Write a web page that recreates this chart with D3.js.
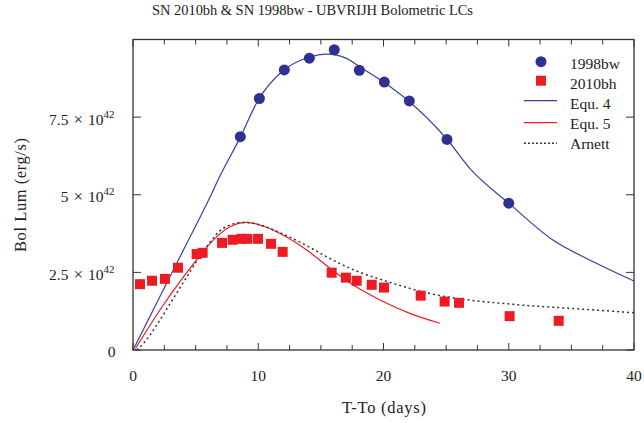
<!DOCTYPE html>
<html><head><meta charset="utf-8">
<script src="https://cdn.jsdelivr.net/npm/d3@7"></script>
<style>body{margin:0;background:#fff}svg{display:block}text{font-family:"Liberation Serif","DejaVu Serif",serif;fill:#222}</style>
</head><body><svg id="c" width="644" height="423"></svg>
<script>
// ---- data ----
const bw98T = [8.57,10.09,12.08,14.08,16.07,18.07,20.07,22.06,25.07,30.0];
const bw98L = [6.87,8.10,9.02,9.40,9.67,9.01,8.63,8.02,6.78,4.73];
const bh10T = [0.56,1.52,2.55,3.59,5.08,5.56,7.11,7.96,8.67,9.13,9.98,11.02,11.95,15.86,17.0,17.86,19.06,20.04,22.97,24.88,26.03,30.07,33.99];
const bh10L = [2.12,2.23,2.29,2.65,3.09,3.13,3.45,3.55,3.58,3.58,3.58,3.42,3.16,2.49,2.33,2.23,2.10,2.01,1.75,1.56,1.52,1.09,0.94];
const eq4T = [0,2,4,6,7,8.5,10,12,14,15.5,17,18,20,22,25,27,30,33.5,36.75,40];
const eq4L = [0,1.6,3.2,4.8,5.65,6.8,8.05,9.0,9.42,9.53,9.4,9.15,8.63,8.02,6.82,5.8,4.73,3.55,2.84,2.22];
const eq5T = [0.2,2.42,3.75,5.08,6.41,7.74,9.08,10.3,11.74,13.87,15.73,17.59,19.72,22.1,24.5];
const eq5L = [0.05,1.45,2.2,2.9,3.54,3.97,4.11,4.0,3.75,3.22,2.63,2.09,1.61,1.18,0.86];
const arnT = [0.3,0.83,1.36,1.89,3.22,4.55,5.88,7.21,8.81,9.34,10.5,12.0,13.87,15.2,16.53,18.0,19.72,23.7,30.36,35,40];
const arnL = [0,0.21,0.48,0.8,1.66,2.52,3.33,3.92,4.11,4.1,3.98,3.73,3.36,3.06,2.78,2.52,2.28,1.82,1.47,1.34,1.2];
const xTicks = [0,10,20,30,40];
const xMinor = d3.range(0,40.01,2.5);
const yTicks = [0,2.5,5,7.5];
const yLabels = ["0","2.5","5","7.5"];
const legendLabels = ["1998bw","2010bh","Equ. 4","Equ. 5","Arnett"];
const titleText = "SN 2010bh & SN 1998bw - UBVRIJH Bolometric LCs";

const svg = d3.select("#c");
const x = d3.scaleLinear().domain([0,40]).range([133,634]);
const y = d3.scaleLinear().domain([0,10]).range([350,39.5]);
const blue = "#2e3192", red = "#ed1c24";

// title
svg.append("text").attr("x",312.5).attr("y",14.5).attr("text-anchor","middle").style("font-size","14.5px")
  .attr("textLength",321).text(titleText);

// clip
svg.append("clipPath").attr("id","cp").append("rect").attr("x",133).attr("y",39.5).attr("width",501).attr("height",310.5);
const g = svg.append("g").attr("clip-path","url(#cp)");

const line = (T,L)=> d3.line().x((d,i)=>x(T[i])).y((d,i)=>y(L[i])).curve(d3.curveMonotoneX)(T);
g.append("path").attr("d",line(eq4T,eq4L)).attr("fill","none").attr("stroke","#3b3f9c").attr("stroke-width",1.2);
g.append("path").attr("d",line(eq5T,eq5L)).attr("fill","none").attr("stroke",red).attr("stroke-width",1.2);
g.append("path").attr("d",line(arnT,arnL)).attr("fill","none").attr("stroke","#333").attr("stroke-width",1.5).attr("stroke-dasharray","2,3");

g.selectAll("rect.bh").data(bh10T).enter().append("rect").attr("class","bh")
 .attr("x",(d)=>x(d)-5).attr("y",(d,i)=>y(bh10L[i])-5).attr("width",10).attr("height",10).attr("fill",red);
g.selectAll("circle.bw").data(bw98T).enter().append("circle").attr("class","bw")
 .attr("cx",d=>x(d)).attr("cy",(d,i)=>y(bw98L[i])).attr("r",5.5).attr("fill",blue);

// axes
const ax = svg.append("g").attr("stroke","#333").attr("stroke-width",1);
ax.append("rect").attr("x",133).attr("y",39.5).attr("width",501).attr("height",310.5).attr("fill","none").attr("stroke-width",1.3);
xMinor.forEach(t=>{
  const major = xTicks.includes(t);
  const len = major?7:5;
  ax.append("line").attr("x1",x(t)).attr("x2",x(t)).attr("y1",350).attr("y2",350-len);
  ax.append("line").attr("x1",x(t)).attr("x2",x(t)).attr("y1",39.5).attr("y2",39.5+len);
});
yTicks.concat([10]).forEach(v=>{
  ax.append("line").attr("x1",133).attr("x2",141).attr("y1",y(v)).attr("y2",y(v));
  ax.append("line").attr("x1",634).attr("x2",626).attr("y1",y(v)).attr("y2",y(v));
});
xTicks.forEach(t=>{
  svg.append("text").attr("x",x(t)).attr("y",381).attr("text-anchor","middle").style("font-size","15.5px").text(t);
});
yTicks.forEach((v,i)=>{
  const tx = svg.append("text").attr("x",114.5).attr("y",y(v)+7.5).attr("text-anchor","end").style("font-size","15.5px");
  if(v===0){ tx.attr("x",115.5).attr("y",y(v)+6.5).text(yLabels[i]); }
  else {
    tx.append("tspan").text(yLabels[i]);
    tx.append("tspan").attr("dx",5).style("font-size","17px").text("\u00d7");
    tx.append("tspan").attr("dx",5).text("10");
    tx.append("tspan").attr("dy",-7).style("font-size","11px").text("42");
  }
});
svg.append("text").attr("x",384).attr("y",413).attr("text-anchor","middle").style("font-size","16.5px")
  .attr("textLength",84).text("T-To (days)");
svg.append("text").attr("transform","translate(26,195) rotate(-90)").attr("text-anchor","middle").style("font-size","16.5px")
  .attr("textLength",114).text("Bol Lum (erg/s)");

// legend
const lgY = [61.7,80.7,100.7,122.7,143.3];
const lgBase = [69,88.5,108.5,128.5,149];
const lg = svg.append("g");
lg.append("circle").attr("cx",541).attr("cy",lgY[0]).attr("r",5.5).attr("fill",blue);
lg.append("rect").attr("x",536).attr("y",lgY[1]-5).attr("width",10).attr("height",10).attr("fill",red);
lg.append("line").attr("x1",524).attr("x2",557).attr("y1",lgY[2]).attr("y2",lgY[2]).attr("stroke","#3b3f9c").attr("stroke-width",1.2);
lg.append("line").attr("x1",524).attr("x2",557).attr("y1",lgY[3]).attr("y2",lgY[3]).attr("stroke",red).attr("stroke-width",1.2);
lg.append("line").attr("x1",524).attr("x2",557).attr("y1",lgY[4]).attr("y2",lgY[4]).attr("stroke","#333").attr("stroke-width",1.5).attr("stroke-dasharray","2,2");
legendLabels.forEach((s,i)=>{
  lg.append("text").attr("x",570).attr("y",lgBase[i]).style("font-size","15.5px").text(s);
});
</script></body></html>
